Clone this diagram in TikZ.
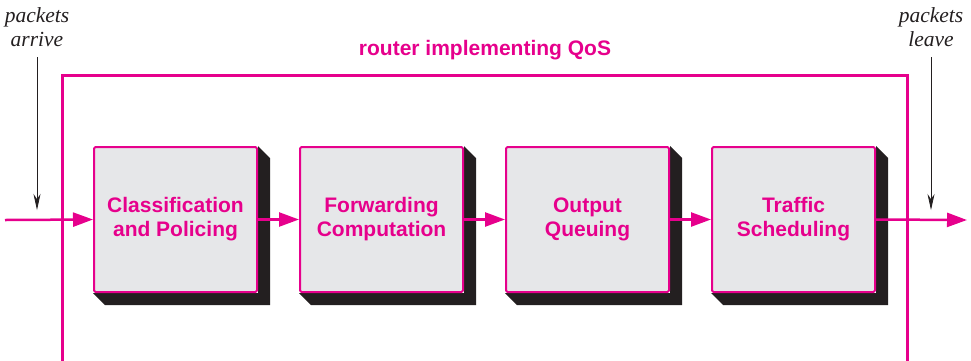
\documentclass[tikz,border=0pt]{standalone}
\usepackage{fontspec}
\setmainfont{Liberation Serif}
\setsansfont{Liberation Sans}
\usetikzlibrary{arrows.meta,backgrounds}
\definecolor{qmag}{RGB}{230,0,140}
\definecolor{qgray}{RGB}{230,231,233}
\definecolor{qshadow}{RGB}{35,31,32}
\begin{document}
\begin{tikzpicture}[x=1pt,y=-1pt,
  stage/.style={draw=qmag, line width=2pt, fill=qgray, minimum width=163pt, minimum height=145pt,
    inner sep=0pt, align=center, font=\sffamily\bfseries\fontsize{21}{24}\selectfont, text=qmag, rounded corners=1.5pt},
  flow/.style={draw=qmag, line width=2.5pt, -{Triangle[length=20pt,width=14pt]}},
  drop/.style={draw=qshadow, line width=0.8pt, -{Stealth[length=16pt,width=7pt]}},
  note/.style={font=\itshape\fontsize{21.5}{24}\selectfont, text=qshadow, align=center, inner sep=0pt},
  ttl/.style={font=\sffamily\bfseries\fontsize{21}{24}\selectfont, text=qmag, inner sep=0pt},
  frame/.style={draw=qmag, line width=3pt}]
\useasboundingbox (0,0) rectangle (971,360);

\node[stage] (b1) at (175.5,219.5) {Classification\\and Policing};
\node[stage] (b2) at (381.5,219.5) {Forwarding\\Computation};
\node[stage] (b3) at (587.5,219.5) {Output\\Queuing};
\node[stage] (b4) at (793.5,219.5) {Traffic\\Scheduling};

\begin{scope}[on background layer]
\foreach \b in {b1,b2,b3,b4}{
  \fill[qshadow] (\b.north east) -- ([shift={(12,12)}]\b.north east) -- ([shift={(12,12)}]\b.south east)
    -- ([shift={(12,12)}]\b.south west) -- (\b.south west) -- (\b.south east) -- cycle;
}
\end{scope}

\draw[frame] (62,365) -- (62,75) -- (907,75) -- (907,365);
\node[ttl] (title) at (485,50) {router implementing QoS};

\coordinate (in) at (5,220);
\coordinate (out) at (967,220);
\draw[flow] (in) -- (b1.west);
\draw[flow] (b1.east) -- (b2.west);
\draw[flow] (b2.east) -- (b3.west);
\draw[flow] (b3.east) -- (b4.west);
\draw[flow] (b4.east) -- (out);

\node[note] (arr) at (37,27) {packets\\arrive};
\node[note] (lea) at (931,27) {packets\\leave};
\coordinate (d1) at (37,210);
\coordinate (d2) at (931,210);
\draw[drop] (arr.south |- 0,57) -- (d1);
\draw[drop] (lea.south |- 0,57) -- (d2);
\end{tikzpicture}
\end{document}
